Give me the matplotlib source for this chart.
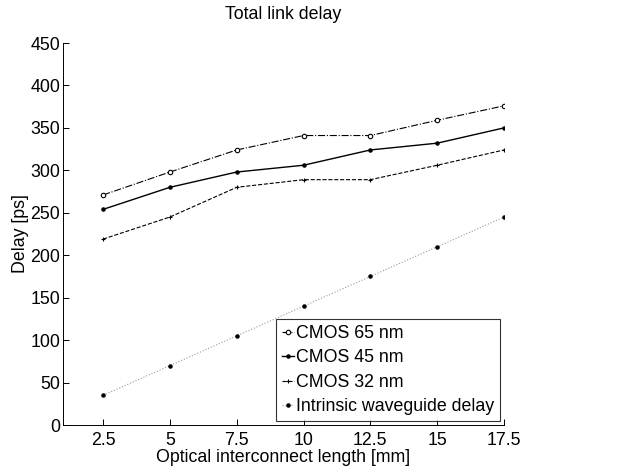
import matplotlib
matplotlib.use("Agg")
import matplotlib.pyplot as plt

plt.rcParams["font.family"] = ["Liberation Sans", "DejaVu Sans"]
fs = 12.8

length = [2.5, 5, 7.5, 10, 12.5, 15, 17.5]
cmos65 = [271, 298, 324, 341, 341, 359, 376]
cmos45 = [254, 280, 298, 306, 324, 332, 350]
cmos32 = [219, 245, 280, 289, 289, 306, 324]
intrinsic = [35, 70, 105, 140, 175, 210, 245]

fig = plt.figure(figsize=(6.43, 4.74), dpi=100)
ax = fig.add_axes([63/643, 49/474, 441/643, 382/474])

ax.plot(length, cmos65, "k-.", marker="o", ms=3.2, mfc="white", mew=0.8, lw=0.8, label="CMOS 65 nm")
ax.plot(length, cmos45, "k-", marker=".", ms=4.5, lw=1.0, label="CMOS 45 nm")
ax.plot(length, cmos32, "k--", marker="+", ms=3.5, mew=0.8, lw=0.8, label="CMOS 32 nm")
ax.plot(length, intrinsic, ls=":", color="0.6", marker=".", ms=4.5, mfc="k", mec="k", lw=0.8,
        label="Intrinsic waveguide delay")

ax.set_xlim(1.0, 17.5)
ax.set_ylim(0, 450)
ax.set_xticks(length)
ax.set_xticklabels(["2.5", "5", "7.5", "10", "12.5", "15", "17.5"])
ax.set_yticks(range(0, 451, 50))
ax.spines["top"].set_visible(False)
ax.spines["right"].set_visible(False)
for s in ("left", "bottom"):
    ax.spines[s].set_linewidth(0.7)
ax.tick_params(direction="in", length=4, width=0.7, labelsize=fs)
ax.tick_params(axis="x", pad=5)
ax.tick_params(axis="y", pad=2)
ax.set_xlabel("Optical interconnect length [mm]", fontsize=fs, labelpad=0)
ax.set_ylabel("Delay [ps]", fontsize=fs, labelpad=1)
ax.set_title("Total link delay", fontsize=fs, pad=17)

leg = ax.legend(loc="lower right", bbox_to_anchor=(1.0, 0.0), fontsize=fs, frameon=True,
                fancybox=False, edgecolor="k", handlelength=0.7, handletextpad=0.1,
                borderpad=0.33, labelspacing=0.42, borderaxespad=0.22)
leg.get_frame().set_linewidth(0.8)

fig.savefig("out.png", dpi=100)
